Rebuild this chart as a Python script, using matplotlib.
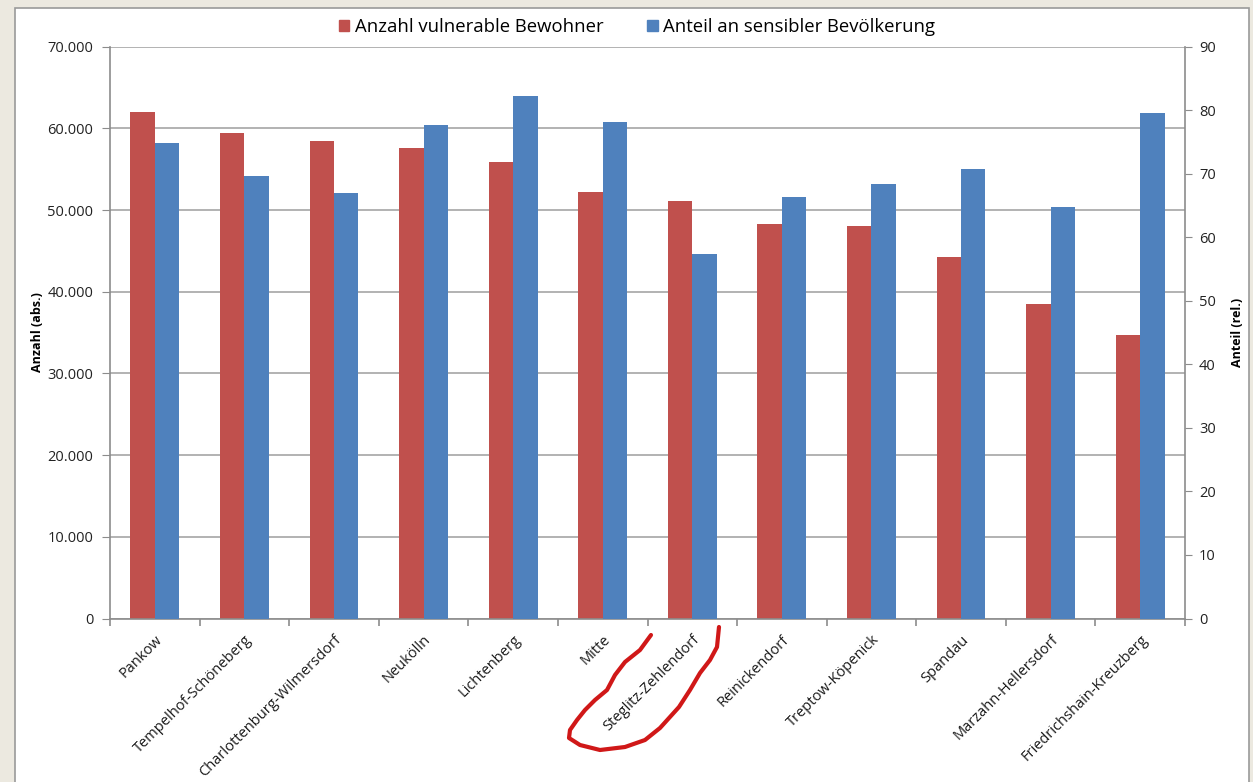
import numpy as np
import matplotlib.pyplot as plt
from matplotlib.ticker import FuncFormatter, MultipleLocator, FixedLocator
from matplotlib.patches import Rectangle, Patch
from matplotlib.lines import Line2D

plt.rcParams['font.family'] = ['Open Sans', 'DejaVu Sans']

# Bezirke und Werte
bezirke = ['Pankow', 'Tempelhof-Schöneberg', 'Charlottenburg-Wilmersdorf', 'Neukölln',
           'Lichtenberg', 'Mitte', 'Steglitz-Zehlendorf', 'Reinickendorf',
           'Treptow-Köpenick', 'Spandau', 'Marzahn-Hellersdorf', 'Friedrichshain-Kreuzberg']
anzahl = [62000, 59400, 58400, 57600, 55900, 52200, 51100, 48300, 48100, 44300, 38500, 34700]
anteil = [74.8, 69.6, 66.9, 77.6, 82.2, 78.1, 57.4, 66.3, 68.3, 70.7, 64.7, 79.5]

rot = '#c0504d'
blau = '#4f81bd'
grau = '#8c8c8c'
W, H = 1253, 782

fig = plt.figure(figsize=(W / 100, H / 100), dpi=100)
fig.patch.set_facecolor('#ece9e0')
# weisses Diagrammfeld mit grauem Rand
fig.add_artist(Rectangle((15 / W, -0.05), (1249 - 15) / W, 1.05 - 8 / H,
                         transform=fig.transFigure, facecolor='white',
                         edgecolor='#9a9a9a', linewidth=1.2, zorder=0))

ax = fig.add_axes([110 / W, 1 - 618.5 / H, (1185 - 110) / W, (618.5 - 46.6) / H])
ax.set_facecolor('none')
ax2 = ax.twinx()

x = np.arange(len(bezirke))
bw = 0.273
ax.bar(x - bw / 2, anzahl, width=bw, color=rot, zorder=2)
ax2.bar(x + bw / 2, anteil, width=bw, color=blau, zorder=2)

ax.set_xlim(-0.5, len(bezirke) - 0.5)
ax.set_ylim(0, 70000)
ax2.set_ylim(0, 90)
ax.yaxis.set_major_locator(MultipleLocator(10000))
ax2.yaxis.set_major_locator(MultipleLocator(10))
ax.yaxis.set_major_formatter(FuncFormatter(lambda v, p: f'{v:,.0f}'.replace(',', '.')))

ax.grid(axis='y', color='#a6a6a6', linewidth=1.2)
ax.set_axisbelow(True)

for a in (ax, ax2):
    a.spines['top'].set_visible(False)
    for s in ('left', 'right', 'bottom'):
        a.spines[s].set_color(grau)
        a.spines[s].set_linewidth(1.2)
ax.spines['right'].set_visible(False)
ax2.spines['left'].set_visible(False)
ax2.spines['bottom'].set_visible(False)

ax.tick_params(axis='y', length=6, color=grau, labelsize=10.5, pad=6, labelcolor='#222222')
ax2.tick_params(axis='y', length=5, color=grau, labelsize=10.5, pad=5, labelcolor='#222222')

ax.set_xticks(x)
ax.set_xticklabels(bezirke, rotation=45, ha='right', rotation_mode='anchor',
                   fontsize=10.5, color='#1a1a1a')
ax.tick_params(axis='x', which='major', length=0, pad=10)
ax.xaxis.set_minor_locator(FixedLocator(np.arange(-0.5, len(bezirke), 1)))
ax.tick_params(axis='x', which='minor', length=5, color=grau, width=1.2)

ax.set_ylabel('Anzahl (abs.)', fontsize=9, fontweight='bold')
ax.yaxis.set_label_coords(-66 / (1185 - 110), 0.5)
ax2.set_ylabel('Anteil (rel.)', fontsize=9, fontweight='bold')
ax2.yaxis.set_label_coords(1 + 46 / (1185 - 110), 0.5)

handles = [Patch(color=rot, label='Anzahl vulnerable Bewohner'),
           Patch(color=blau, label='Anteil an sensibler Bevölkerung')]
fig.legend(handles=handles, loc='center', bbox_to_anchor=(637 / W, 1 - 27 / H), ncol=2,
           frameon=False, fontsize=13.3, handlelength=0.55, handleheight=0.55,
           handletextpad=0.3, columnspacing=2.4)

# rote Handmarkierung um Steglitz-Zehlendorf
kx = [651, 640, 625, 615, 607, 595, 585, 577, 570, 569, 580, 600, 625, 645, 660, 679, 690, 700, 710, 717, 719]
ky = [635, 650, 662, 675, 690, 700, 710, 720, 730, 738, 745, 750, 747, 740, 728, 707, 690, 673, 660, 647, 627]
fig.add_artist(Line2D(np.array(kx) / W, 1 - np.array(ky) / H, transform=fig.transFigure,
                      color='#d01818', linewidth=3, solid_capstyle='round', zorder=5))

plt.savefig('out.png', dpi=100, facecolor=fig.get_facecolor())
